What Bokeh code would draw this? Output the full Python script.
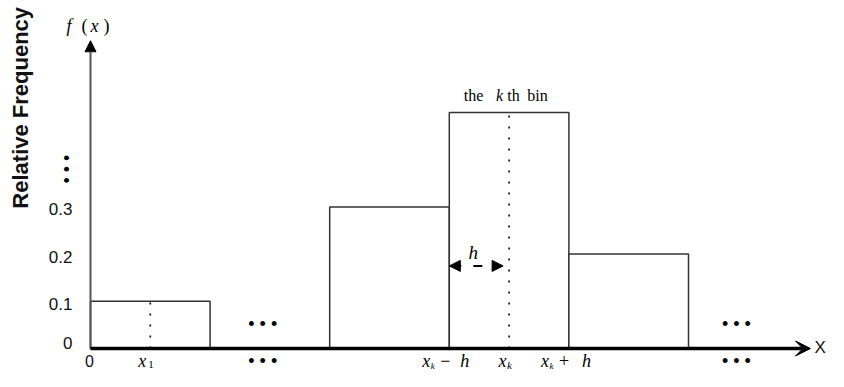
import numpy as np
from bokeh.plotting import figure
from bokeh.models import Arrow, VeeHead, NormalHead, Range1d
from bokeh.core.properties import value
from bokeh.embed import file_html
from bokeh.resources import INLINE

# ---------------- data ----------------
bin_left = [0, 2, 3, 4]
bin_right = [1, 3, 4, 5]
rel_freq = [0.1, 0.3, 0.5, 0.2]
y_ticks = [0, 0.1, 0.2, 0.3]
y_tick_labels = ["0", "0.1", "0.2", "0.3"]
k_index = 2            # the k-th bin
marked_bins = [0, 2]   # bins whose centre is marked (x1 and xk)
ellipsis_x = [1.44, 5.4]

# ---------------- layout constants ----------------
W, H = 828, 371
PX_X = 119.6      # pixels per x unit
PX_Y = 472.0      # pixels per y unit
ORIG_X = 90       # frame pixel of x = 0
ORIG_Y = 348      # frame pixel (from top) of y = 0
x_axis_end = 6.02
y_axis_end = 0.652
arrow_y = 0.175

SERIF = value("Liberation Serif")
SANS = value("Liberation Sans")

p = figure(width=W, height=H,
           x_range=Range1d(-ORIG_X / PX_X, (W - ORIG_X) / PX_X),
           y_range=Range1d(-(H - ORIG_Y) / PX_Y, ORIG_Y / PX_Y),
           output_backend="svg", toolbar_location=None,
           x_axis_location=None, y_axis_location=None,
           min_border=0, outline_line_color=None,
           background_fill_color="white", border_fill_color="white")
p.grid.visible = False

# bars
p.quad(left=bin_left, right=bin_right, bottom=[0] * len(rel_freq), top=rel_freq,
       fill_color="white", line_color="#333333", line_width=1.5)

# dotted centre lines
centers = [(bin_left[i] + bin_right[i]) / 2 for i in marked_bins]
p.segment(x0=centers, y0=[0] * len(centers), x1=centers,
          y1=[rel_freq[i] for i in marked_bins],
          line_color="black", line_width=1.6, line_dash="2 9")

kl = bin_left[k_index]
kr = bin_right[k_index]
kc = (kl + kr) / 2

# dashed h arrow
p.add_layout(Arrow(start=NormalHead(size=11, fill_color="black", line_color="black"),
                   end=NormalHead(size=11, fill_color="black", line_color="black"),
                   x_start=kl, y_start=arrow_y, x_end=kc - 0.05, y_end=arrow_y,
                   line_color="black", line_width=2, line_dash="12 12 9 40"))

# axes as arrows
p.add_layout(Arrow(end=NormalHead(size=11, fill_color="black", line_color="black"),
                   x_start=0, y_start=0, x_end=0, y_end=y_axis_end,
                   line_color="#555555", line_width=2))
p.add_layout(Arrow(end=VeeHead(size=15, fill_color="black", line_color="black"),
                   x_start=0, y_start=0, x_end=x_axis_end, y_end=0,
                   line_color="black", line_width=3.5))


def txt(x, y, s, dx=0, dy=0, size=19, font=SERIF, style="italic",
        align="left", angle=0.0, color="black"):
    p.text(x=[x], y=[y], text=[s], x_offset=dx, y_offset=dy, angle=angle,
           text_align=align, text_baseline="middle", text_font=font,
           text_font_style=style, text_font_size=f"{size}px", text_color=color)


# y tick labels
tick_dy = [-6, 3, 3, 2]
for t, lab, dy in zip(y_ticks, y_tick_labels, tick_dy):
    txt(0, t, lab, dx=-18, dy=dy, size=17, font=SANS, style="normal",
        align="right", color="#111111")

# vertical ellipsis on y axis
txt(-23.3 / PX_X, 0.38, "• • •", size=18, font=SANS, style="normal",
    align="center", angle=np.pi / 2)

# y axis title
txt(-70 / PX_X, 0.51, "Relative Frequency", size=22, font=SANS, style="bold",
    align="center", angle=np.pi / 2, color="#111111")

# f(x)
fy = -15
txt(0, y_axis_end, "f", dx=-24, dy=fy, size=18)
txt(0, y_axis_end, "(", dx=-9, dy=fy, size=18, style="normal")
txt(0, y_axis_end, "x", dx=0, dy=fy, size=18)
txt(0, y_axis_end, ")", dx=13, dy=fy, size=18, style="normal")

# X label
txt(x_axis_end, 0, "X", dx=4, dy=-1, size=17, font=SANS, style="normal",
    color="#111111")

# origin
txt(0, 0, "0", dx=-1, dy=12, size=16, font=SANS, style="normal",
    align="center", color="#111111")

# horizontal ellipses
for ex in ellipsis_x:
    for dy in (-25, 12):
        txt(ex, 0, "• • •", dy=dy, size=18, font=SANS, style="normal",
            align="center")

# bottom labels: main row / subscript row offsets (pixels below the axis)
MAIN_DY = 12
SUB_DY = 16

# x_1
c0 = centers[0]
txt(c0, 0, "x", dx=-12, dy=MAIN_DY, size=18)
txt(c0, 0, "1", dx=-2, dy=SUB_DY, size=11, style="normal")

# x_k
txt(kc, 0, "x", dx=-10.6, dy=MAIN_DY, size=18)
txt(kc, 0, "k", dx=-2, dy=SUB_DY, size=11)

# x_k - h
txt(kl, 0, "x", dx=-27, dy=MAIN_DY, size=18)
txt(kl, 0, "k", dx=-18.5, dy=SUB_DY + 1, size=9)
txt(kl, 0, "\u2212", dx=-9, dy=MAIN_DY, size=18, style="normal")
txt(kl, 0, "h", dx=11, dy=MAIN_DY, size=18)

# x_k + h
txt(kr, 0, "x", dx=-28, dy=MAIN_DY, size=18)
txt(kr, 0, "k", dx=-19.5, dy=SUB_DY + 1, size=9)
txt(kr, 0, "+", dx=-10, dy=MAIN_DY, size=18, style="normal")
txt(kr, 0, "h", dx=13, dy=MAIN_DY, size=18)

# h above the dashed arrow
txt(kl, arrow_y, "h", dx=24, dy=-13, size=19, align="center")

# "the kth bin"
top_k = rel_freq[k_index]
ky = -17
txt(kc, top_k, "the", dx=-35.6, dy=ky, size=16, style="normal", align="center")
txt(kc, top_k, "k", dx=-9.6, dy=ky, size=16, style="italic", align="center")
txt(kc, top_k, "th", dx=4.4, dy=ky, size=16, style="normal", align="center")
txt(kc, top_k, "bin", dx=28.4, dy=ky, size=16, style="normal", align="center")

open("out.html", "w").write(file_html(p, INLINE))
